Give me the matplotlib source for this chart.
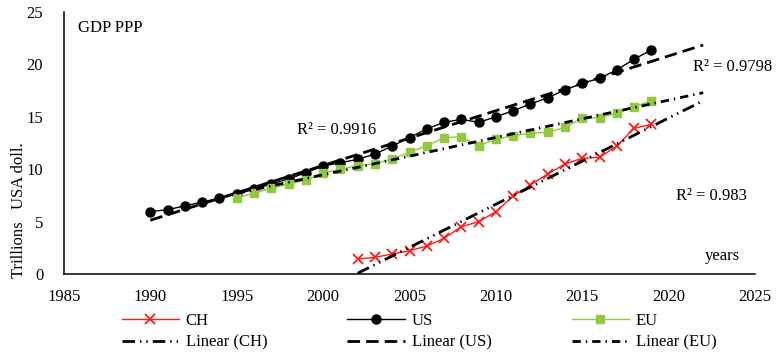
import numpy as np
import matplotlib
matplotlib.use("Agg")
import matplotlib.pyplot as plt

plt.rcParams['font.family'] = ['Liberation Serif', 'DejaVu Serif']
plt.rcParams['font.size'] = 12

# data (trillions USD, PPP)
us_years = list(range(1990, 2020))
us_gdp = [5.95, 6.14, 6.5, 6.87, 7.22, 7.63, 8.08, 8.59, 9.06, 9.67,
          10.3, 10.62, 10.94, 11.45, 12.21, 13.02, 13.85, 14.47, 14.76, 14.47,
          15.0, 15.58, 16.22, 16.82, 17.56, 18.2, 18.67, 19.47, 20.5, 21.37]

eu_years = list(range(1995, 2020))
eu_gdp = [7.28, 7.7, 8.18, 8.56, 8.97, 9.64, 10.0, 10.35, 10.53, 11.0,
          11.6, 12.24, 13.0, 13.1, 12.24, 12.85, 13.2, 13.42, 13.52, 14.0,
          14.86, 14.9, 15.33, 15.96, 16.54]

ch_years = list(range(2002, 2020))
ch_gdp = [1.43, 1.59, 1.91, 2.22, 2.67, 3.4, 4.51, 4.99, 5.94, 7.44,
          8.49, 9.54, 10.5, 11.04, 11.14, 12.21, 13.9, 14.28]

r2_labels = ["R\u00b2 = 0.983", "R\u00b2 = 0.9916", "R\u00b2 = 0.9798"]
trend_end = 2022

red = '#FF1A1A'
green = '#92C840'

fig = plt.figure(figsize=(7.82, 3.52), dpi=100)
ax = fig.add_axes([64/782, 1-274/352, (755-64)/782, (274-12)/352])


def trend(years, vals):
    k, b = np.polyfit(years, vals, 1)
    xs = np.linspace(years[0], trend_end, 200)
    return xs, k*xs + b


l_ch, = ax.plot(ch_years, ch_gdp, color=red, lw=1, marker='x', ms=7, mew=1.3, label='CH')
l_us, = ax.plot(us_years, us_gdp, color='black', lw=1, marker='o', ms=6.5, label='US')
l_eu, = ax.plot(eu_years, eu_gdp, color=green, lw=1, marker='s', ms=5.5, label='EU')

x, y = trend(ch_years, ch_gdp)
t_ch, = ax.plot(x, y, color='black', lw=2, dashes=(4.5, 1.8, 0.5, 1.8, 0.5, 1.8),
                label='Linear (CH)', zorder=3)
x, y = trend(us_years, us_gdp)
t_us, = ax.plot(x, y, color='black', lw=2, dashes=(4.5, 2.2), label='Linear (US)', zorder=3)
x, y = trend(eu_years, eu_gdp)
t_eu, = ax.plot(x, y, color='black', lw=2, dashes=(3, 1.8, 0.5, 1.8),
                label='Linear (EU)', zorder=3)

ax.set_xlim(1985, 2025)
ax.set_ylim(0, 25)
ax.set_xticks(range(1985, 2026, 5))
ax.set_yticks(range(0, 26, 5))
ax.tick_params(axis='both', length=0, labelsize=12)
ax.tick_params(axis='x', pad=11)
ax.tick_params(axis='y', pad=15)
for s in ['top', 'right']:
    ax.spines[s].set_visible(False)
for s in ['left', 'bottom']:
    ax.spines[s].set_linewidth(1.1)

ax.text(1985.8, 23.5, 'GDP PPP', va='center', ha='left')
ax.text(1998.5, 13.7, r2_labels[1], va='center', ha='left')
ax.text(2021.4, 19.75, r2_labels[2], va='center', ha='left')
ax.text(2020.4, 7.44, r2_labels[0], va='center', ha='left')
ax.text(2022.1, 1.72, 'years', va='center', ha='left')

fig.text(19/782, 1-210/352, 'Trillions   USA doll.', rotation=90, va='center', ha='center')

fig.legend(handles=[l_ch, t_ch, l_us, t_us, l_eu, t_eu], ncol=3, loc='upper left',
           bbox_to_anchor=(121.5/782, 1-313/352), frameon=False, borderpad=0,
           borderaxespad=0, handlelength=3.44, handletextpad=0.42,
           columnspacing=4.8, labelspacing=0.35)

fig.savefig('out.png', dpi=100)
